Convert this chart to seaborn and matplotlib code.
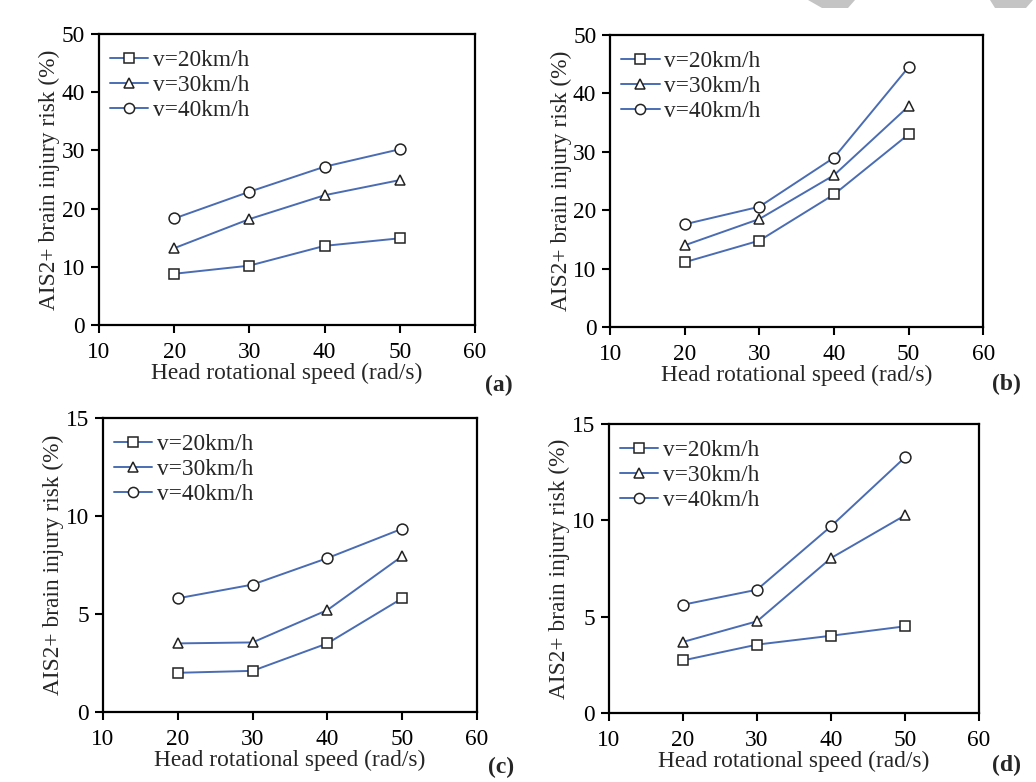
import numpy as np
import pandas as pd
import matplotlib
matplotlib.use("Agg")
import matplotlib.pyplot as plt
from matplotlib.lines import Line2D
from matplotlib.patches import Polygon
import seaborn as sns

# data
speeds = [20, 30, 40, 50]
series_names = ["v=20km/h", "v=30km/h", "v=40km/h"]

a_v20 = [8.8, 10.2, 13.6, 14.9]
a_v30 = [13.2, 18.2, 22.3, 24.9]
a_v40 = [18.3, 22.9, 27.2, 30.2]

b_v20 = [11.1, 14.8, 22.7, 33.0]
b_v30 = [14.0, 18.5, 26.0, 37.8]
b_v40 = [17.6, 20.6, 29.0, 44.5]

c_v20 = [2.0, 2.1, 3.5, 5.8]
c_v30 = [3.5, 3.55, 5.2, 7.95]
c_v40 = [5.8, 6.5, 7.85, 9.35]

d_v20 = [2.73, 3.55, 4.01, 4.50]
d_v30 = [3.69, 4.76, 8.04, 10.26]
d_v40 = [5.62, 6.40, 9.69, 13.27]

panels = [
    ("(a)", [a_v20, a_v30, a_v40], [0, 10, 20, 30, 40, 50]),
    ("(b)", [b_v20, b_v30, b_v40], [0, 10, 20, 30, 40, 50]),
    ("(c)", [c_v20, c_v30, c_v40], [0, 5, 10, 15]),
    ("(d)", [d_v20, d_v30, d_v40], [0, 5, 10, 15]),
]

sns.set_theme(style="ticks")
plt.rcParams['font.family'] = ['Liberation Serif', 'DejaVu Serif']

line_col = "#4a6cb3"
edge_col = "#222222"
markers = {"v=20km/h": "s", "v=30km/h": "^", "v=40km/h": "o"}
msizes = {"v=20km/h": 7.0, "v=30km/h": 7.5, "v=40km/h": 7.8}
fs = 16.8

# axes boxes [left, bottom, width, height] in figure fractions
boxes = [
    [0.0956, 0.5844, 0.3629, 0.3721],
    [0.5890, 0.5818, 0.3600, 0.3734],
    [0.0994, 0.0895, 0.3610, 0.3760],
    [0.5878, 0.0882, 0.3572, 0.3696],
]
label_pos = [(0.481, 0.507), (0.971, 0.509), (0.484, 0.019), (0.972, 0.021)]

fig = plt.figure(figsize=(10.36, 7.82), dpi=100)

# grey marks at the top edge of the page
for xs in [(808, 855, 822, 848), (990, 1033, 995, 1026)]:
    pts = [(xs[0] / 1036, 1.0), (xs[1] / 1036, 1.0), (xs[3] / 1036, 1 - 8 / 782), (xs[2] / 1036, 1 - 8 / 782)]
    fig.patches.append(Polygon(pts, closed=True, transform=fig.transFigure,
                               facecolor="#c4c4c4", edgecolor="none"))

for (tag, vals, yticks), box, lpos in zip(panels, boxes, label_pos):
    ax = fig.add_axes(box)
    rows = []
    for name, ys in zip(series_names, vals):
        for x, y in zip(speeds, ys):
            rows.append({"speed": x, "risk": y, "series": name})
    df = pd.DataFrame(rows)
    for name in series_names:
        sub = df[df["series"] == name]
        sns.lineplot(data=sub, x="speed", y="risk", ax=ax, color=line_col,
                     marker=markers[name], markersize=msizes[name],
                     markerfacecolor="white", markeredgecolor=edge_col,
                     markeredgewidth=1.1, linewidth=1.4, legend=False)
    ax.set_xlim(10, 60)
    ax.set_ylim(yticks[0], yticks[-1])
    ax.set_xticks([10, 20, 30, 40, 50, 60])
    ax.set_yticks(yticks)
    ax.tick_params(direction="out", length=6, width=1.5, labelsize=fs, colors="black")
    ax.tick_params(axis="x", pad=6)
    ax.tick_params(axis="y", pad=4)
    for s in ax.spines.values():
        s.set_linewidth(1.6)
        s.set_color("black")
    ax.set_xlabel("Head rotational speed (rad/s)", fontsize=fs, labelpad=0)
    ax.set_ylabel("AIS2+ brain injury risk (%)", fontsize=fs, labelpad=1)

    handles = [Line2D([], [], color=line_col, lw=1.4, marker=markers[n], markersize=msizes[n] - 0.5,
                      markerfacecolor="white", markeredgecolor=edge_col, markeredgewidth=1.1)
               for n in series_names]
    ax.legend(handles, series_names, loc="upper left", frameon=False, fontsize=fs,
              handlelength=1.65, handletextpad=0.2, labelspacing=0.15,
              borderpad=0, borderaxespad=0, bbox_to_anchor=(0.029, 0.945))

    fig.text(lpos[0], lpos[1], tag, fontsize=17, fontweight="bold", ha="center", va="center")

fig.savefig("out.png", dpi=100)
